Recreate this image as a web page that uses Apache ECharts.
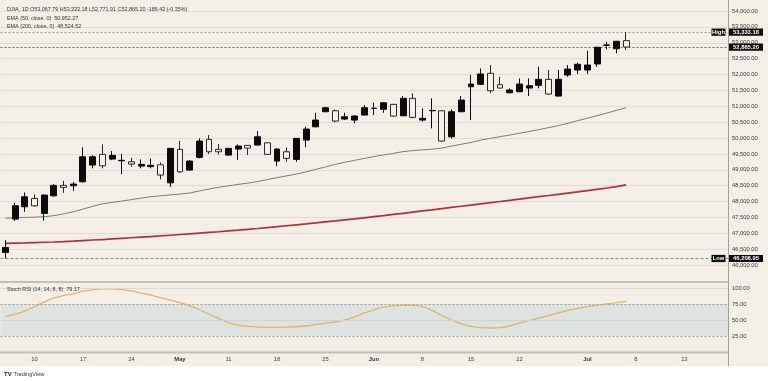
<!DOCTYPE html>
<html><head><meta charset="utf-8">
<script src="https://cdn.jsdelivr.net/npm/echarts@6/dist/echarts.min.js"></script>
<style>
html,body{margin:0;padding:0;}
body{background:linear-gradient(#f3efe6 0,#f3efe6 366px,#ffffff 366px,#ffffff 100%);width:768px;height:381px;overflow:hidden}
#c{width:768px;height:381px}
</style>
</head><body><div id="c"></div><script>
// ---- data ----
const opens  = [46399,47448,47836,48100,47627,48182,48510,48497,48623,49149,49486,49338,49285,49253,49117,49102,49158,48591,49644,48991,49392,49958,49644,49464,49653,49770,49779,49851,49275,49568,49328,49936,50355,50828,50859,50598,50566,50724,50930,50904,51061,50702,51250,50566,50860,50859,50040,50828,51615,51691,52037,51678,51426,51458,51574,51660,51849,51322,51984,52142,52142,52331,52920,52812,53067.79];
const highs  = [46786,47961,48289,48226,48230,48550,48654,48623,49707,49464,49801,49590,49496,49379,49328,49360,49234,49690,49914,49306,49990,50094,49811,49690,49801,49780,50220,49870,49684,49707,50000,50355,50796,50985,50903,50796,50724,51039,51111,51125,51075,51322,51408,50935,51250,50870,50903,51322,51984,52195,52299,51930,51565,51880,51880,52245,52142,52142,52299,52371,52749,52876,53033,53060,53333.18];
const lows   = [46208.95,47394,47678,47836,47394,48150,48276,48339,48600,49045,49045,49306,48865,49095,49045,49045,48698,48465,48906,48970,49360,49496,49486,49442,49306,49464,49770,49470,49117,49253,49253,49707,50340,50815,50494,50566,50462,50710,50724,50796,50670,50690,50620,50513,50305,49883,49990,50815,50566,51669,51408,51560,51408,51445,51322,51565,51354,51310,51930,52016,52016,52245,52794,52668,52771.91];
const closes = [46557,47867,48150,47867,48204,48510,48447,48550,49410,49410,49127,49455,49300,49180,49171,49140,48834,49675,48938,49275,49905,49568,49568,49675,49748,49685,50040,49486,49653,49360,49990,50283,50566,50954,50535,50670,50692,50954,50940,51111,50692,51250,50652,50620,50870,49905,50828,51196,51700,52016,51489,51574,51512,51700,51647,51849,51385,51849,52173,52321,52299,52857,52930,53046,52865.20];
const ema50  = [47479,47489,47501,47511,47524,47558,47612,47681,47763,47851,47930,47974,48015,48062,48109,48154,48182,48210,48235,48270,48336,48396,48450,48497,48541,48582,48629,48692,48752,48809,48868,48935,49014,49092,49171,49237,49297,49357,49417,49470,49517,49574,49605,49628,49650,49684,49747,49804,49861,49936,49990,50044,50094,50151,50207,50267,50327,50390,50466,50547,50623,50705,50787,50872,50952.27];
const ema200 = [46682,46692,46701,46711,46720,46727,46739,46755,46774,46790,46805,46824,46843,46862,46881,46900,46919,46941,46963,46985,47007,47029,47051,47076,47101,47127,47152,47180,47209,47240,47268,47297,47328,47360,47391,47423,47454,47489,47524,47558,47596,47631,47669,47706,47741,47779,47817,47854,47889,47927,47965,48002,48040,48078,48116,48154,48191,48229,48267,48305,48346,48387,48428,48472,48524.52];
const stochRsi = [55,59,64,71,78,84,88,91,95,97,98.5,98.5,97.5,95.5,92,89,85,81,77,72,66,59,52,46,42,40,39,38.6,38.6,38.8,39.5,41,43,45,47,50,55,61,66,70,72,73,73,71,65,57,50,44,40,38,37.5,38,41,45,49,53,57,61,65,68,71,73,75,77,79.17];
const tickIndex = [3,8,13,18,23,28,33,38,43,48,53,60,65,70];
const tickText  = ['10','17','24','May','11','18','25','Jun','8','15','22','Jul','8','13'];
const slotCount = 75;

const legendMain = 'DJIA, 1D O53,067.79 H53,333.18 L52,771.91 C52,865.20 -186.42 (-0.35%)';
const legendEma50 = ['EMA (50, close, 0)', '50,952.27'];
const legendEma200 = ['EMA (200, close, 0)', '48,524.52'];
const rsiLabel = ['Stoch RSI (14, 14, 8, 8)', '79.17'];

// ---- build ----
const FONT = 'Liberation Sans';
const categories = Array.from({length: slotCount}, (_, i) => 'd' + i);
const candles = opens.map((o, i) => [o, closes[i], lows[i], highs[i]]);
const lastClose = closes[closes.length - 1];
const hi = Math.max(...highs), lo = Math.min(...lows);
const fmt = v => v.toLocaleString('en-US', {minimumFractionDigits: 2, maximumFractionDigits: 2});

const chart = echarts.init(document.getElementById('c'), null, {renderer: 'canvas'});
const axisLabelStyle = {fontFamily: FONT, fontSize: 5.8, color: '#3a3a3a'};

chart.setOption({
  backgroundColor: 'transparent',
  animation: false,
  grid: [
    {left: 0.5, right: 40, top: 0, height: 281},
    {left: 0.5, right: 40, top: 288, height: 64}
  ],
  xAxis: [
    {type: 'category', gridIndex: 0, data: categories, boundaryGap: true,
     axisLine: {show: false}, axisTick: {show: false}, axisLabel: {show: false}, splitLine: {show: false}},
    {type: 'category', gridIndex: 1, data: categories, boundaryGap: true,
     axisLine: {show: false}, axisTick: {show: false}, splitLine: {show: false},
     axisLabel: {
       show: true, margin: 4.5, ...axisLabelStyle, color: '#444',
       interval: (idx) => tickIndex.includes(idx),
       formatter: (val, idx) => {
         const k = tickIndex.indexOf(idx);
         if (k < 0) return '';
         const t = tickText[k];
         return /[A-Za-z]/.test(t) ? '{b|' + t + '}' : t;
       },
       rich: {b: {fontFamily: FONT, fontSize: 5.8, fontWeight: 'bold', color: '#333'}}
     }}
  ],
  yAxis: [
    {type: 'value', gridIndex: 0, position: 'right', min: 45500, max: 54346, interval: 500,
     axisLine: {show: false}, axisTick: {show: false},
     axisLabel: {show: true, margin: 4, ...axisLabelStyle, showMinLabel: false, showMaxLabel: false,
       formatter: v => fmt(v)},
     splitLine: {show: true, showMinLine: false, showMaxLine: false, lineStyle: {color: '#e1ddd3', width: 1}}},
    {type: 'value', gridIndex: 1, position: 'right', min: 0, max: 100, interval: 25,
     axisLine: {show: false}, axisTick: {show: false},
     axisLabel: {show: true, margin: 4, ...axisLabelStyle, showMinLabel: false, formatter: v => fmt(v)},
     splitLine: {show: false}}
  ],
  series: [
    {type: 'candlestick', xAxisIndex: 0, yAxisIndex: 0, data: candles, barWidth: 6.4, z: 5,
     itemStyle: {color: '#0b0b0b', color0: '#f5f2ea', borderColor: '#0b0b0b', borderColor0: '#2a2a2a', borderWidth: 1},
     markLine: {silent: true, symbol: 'none', label: {show: false}, animation: false,
       data: [
         {yAxis: hi, lineStyle: {color: '#9a968f', type: [2, 2], width: 1}},
         {yAxis: lastClose, lineStyle: {color: '#6d6a65', type: [2, 2], width: 1}},
         {yAxis: lo, lineStyle: {color: '#8e8a83', type: [3, 2], width: 1}}
       ]}},
    {type: 'line', xAxisIndex: 0, yAxisIndex: 0, data: ema50, symbol: 'none', z: 3,
     lineStyle: {color: '#7b7b7b', width: 1}},
    {type: 'line', xAxisIndex: 0, yAxisIndex: 0, data: ema200, symbol: 'none', z: 3,
     lineStyle: {color: '#b3303b', width: 1.7}},
    {type: 'line', xAxisIndex: 1, yAxisIndex: 1, data: stochRsi, symbol: 'none', smooth: true, z: 4,
     lineStyle: {color: '#e3b36c', width: 1.3},
     markArea: {silent: true, itemStyle: {color: '#dee3e2'}, data: [[{yAxis: 25}, {yAxis: 75}]]},
     markLine: {silent: true, symbol: 'none', label: {show: false}, animation: false,
       data: [
         {yAxis: 100, lineStyle: {color: '#dcd8cf', type: 'solid', width: 1}},
         {yAxis: 50, lineStyle: {color: '#cfd3d2', type: 'solid', width: 1}},
         {yAxis: 75, lineStyle: {color: '#a3a39f', type: [2, 2], width: 1}},
         {yAxis: 25, lineStyle: {color: '#a3a39f', type: [2, 2], width: 1}}
       ]}}
  ]
});

// ---- overlay: separators, legends, price tags ----
const yHi = chart.convertToPixel({yAxisIndex: 0}, hi);
const yLast = chart.convertToPixel({yAxisIndex: 0}, lastClose);
const yLo = chart.convertToPixel({yAxisIndex: 0}, lo);
const axisX = 728;

function tag(y, text, x, w) {
  return [
    {type: 'rect', z: 100, shape: {x: x, y: y - 3.6, width: w, height: 7.2}, style: {fill: '#0d0d0d'}},
    {type: 'text', z: 101, style: {x: x + w / 2, y: y, text: text, fill: '#fff', font: 'bold 5.8px "' + FONT + '"', align: 'center', verticalAlign: 'middle'}}
  ];
}
function txt(x, y, rich, parts) {
  return {type: 'text', z: 100, style: {x: x, y: y, text: parts, rich: rich, verticalAlign: 'middle', font: '5.4px "' + FONT + '"', fill: '#333'}};
}
const rich = {
  n: {fontFamily: FONT, fontSize: 5.4, color: '#333'},
  r: {fontFamily: FONT, fontSize: 5.4, color: '#c0424b'},
  o: {fontFamily: FONT, fontSize: 5.4, color: '#ecd3a8'}
};

const g = [
  {type: 'rect', z: 90, shape: {x: 0, y: 281, width: axisX, height: 2}, style: {fill: '#c4c0b7'}},
  {type: 'rect', z: 90, shape: {x: 0, y: 351.5, width: axisX, height: 2}, style: {fill: '#c4c0b7'}},
  {type: 'rect', z: 90, shape: {x: axisX, y: 0, width: 0.8, height: 366}, style: {fill: '#8f8c86'}},
  txt(7, 10, rich, '{n|' + legendMain + '}'),
  txt(7, 18.3, rich, '{n|' + legendEma50[0] + '  ' + legendEma50[1] + '}'),
  txt(7, 26.6, rich, '{n|' + legendEma200[0] + '  }{r|' + legendEma200[1] + '}'),
  txt(7, 289.5, rich, '{n|' + rsiLabel[0] + '  }{o|' + rsiLabel[1] + '}'),
  {type: 'text', z: 100, style: {x: 4, y: 374, text: 'TV', font: 'bold 6px "' + FONT + '"', fill: '#131722', verticalAlign: 'middle'}},
  {type: 'text', z: 100, style: {x: 13.5, y: 374, text: 'TradingView', font: '5.6px "' + FONT + '"', fill: '#333', verticalAlign: 'middle'}},
  ...tag(yHi, 'High', 711.5, 14),
  ...tag(yHi, fmt(hi), 729, 34),
  ...tag(yLast, fmt(lastClose), 729, 34),
  ...tag(yLo, 'Low', 711.5, 14),
  ...tag(yLo, fmt(lo), 729, 34)
];
chart.setOption({graphic: {elements: g}});
</script></body></html>
